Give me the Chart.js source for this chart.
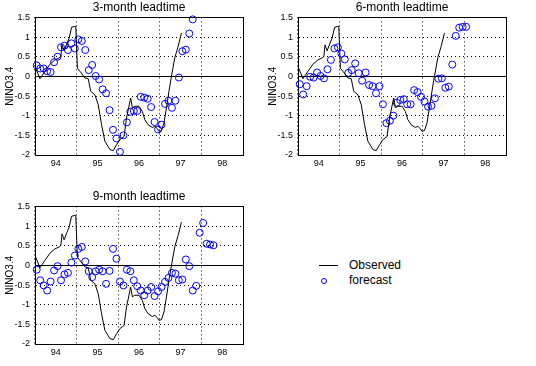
<!DOCTYPE html>
<html>
<head>
<meta charset="utf-8">
<script src="https://cdn.jsdelivr.net/npm/chart.js@4/dist/chart.umd.min.js"></script>
<style>
  body { margin: 0; background: #fff; width: 536px; height: 366px; position: relative; overflow: hidden;
         font-family: 'Liberation Sans', Arial, sans-serif; }
  canvas { position: absolute; }
  .key { position: absolute; font-size: 12px; line-height: 12px; color: #000; white-space: nowrap; }
</style>
</head>
<body>
<canvas id="lead3" width="260" height="175" style="left:0;top:0"></canvas>
<canvas id="lead6" width="260" height="175" style="left:263px;top:0"></canvas>
<canvas id="lead9" width="260" height="175" style="left:0;top:189px"></canvas>

<div style="position:absolute;left:319px;top:265px;width:19px;height:1px;background:#000"></div>
<div class="key" style="left:349px;top:259px">Observed</div>
<div style="position:absolute;left:321px;top:278px;width:4px;height:4px;border:1px solid #00f;border-radius:50%"></div>
<div class="key" style="left:349px;top:274px">forecast</div>

<script>
// tick labels (year labels sit in the middle of each year, grid at year boundaries)
const yearLabels = ['94', '95', '96', '97', '98'];
const yTicks = [-2, -1.5, -1, -0.5, 0, 0.5, 1, 1.5];

// observed NINO3.4 (decimal year since 1900, anomaly)
const obsYear = [94.0, 94.12, 94.24, 94.36, 94.48, 94.58, 94.62, 94.65, 94.7, 94.76, 94.82, 94.88, 94.96, 94.98,
  95.02, 95.08, 95.2, 95.28, 95.34, 95.44, 95.52, 95.6, 95.68, 95.8, 95.88, 95.96, 96.04, 96.14, 96.2, 96.3,
  96.34, 96.4, 96.5, 96.58, 96.64, 96.72, 96.82, 96.88, 96.94, 96.98, 97.04, 97.1, 97.16, 97.22, 97.28, 97.36,
  97.44, 97.52];
const obsValue = [0.25, -0.06, 0.13, 0.31, 0.42, 0.47, 0.5, 0.8, 0.65, 0.82, 0.97, 1.25, 1.27, 1.27,
  0.2, 0.13, -0.04, -0.06, -0.38, -0.47, -0.72, -1.23, -1.65, -1.86, -1.89, -1.74, -1.61, -1.53, -1.06, -0.55,
  -0.8, -0.76, -0.76, -0.89, -1.1, -1.23, -1.3, -1.27, -1.33, -1.4, -1.38, -1.19, -0.8, -0.38, 0.0, 0.47,
  0.76, 1.1];

// forecasts, one per month starting January 1994
const forecastStart = 94;
const fc3 = [0.28, 0.2, 0.2, 0.13, 0.11, 0.36, 0.5, 0.74, 0.78, 0.67, 0.84, 0.71, 0.94, 0.9, 0.67, 0.16,
  0.29, 0.01, -0.08, -0.33, -0.43, -0.86, -1.36, -1.58, -1.92, -1.5, -1.17, -0.9, -0.88, -0.88, -0.52, -0.54,
  -0.57, -0.78, -1.16, -1.35, -1.23, -0.7, -0.62, -0.8, -0.62, -0.03, 0.64, 0.68, 1.09, 1.45];
const fc6 = [-0.2, -0.46, -0.25, -0.01, -0.03, 0.1, 0.01, -0.05, 0.18, 0.42, 0.71, 0.74, 0.58, 0.43, 0.09,
  0.16, 0.33, 0.08, -0.11, 0.1, -0.22, -0.25, -0.43, -0.25, -0.71, -1.19, -1.13, -1.0, -0.67, -0.6, -0.58,
  -0.71, -0.71, -0.35, -0.4, -0.52, -0.64, -0.77, -0.75, -0.56, -0.06, -0.05, -0.29, -0.26, 0.3, 1.03, 1.24,
  1.26, 1.26];
const fc9 = [-0.11, -0.38, -0.51, -0.64, -0.41, -0.13, -0.02, -0.38, -0.23, -0.19, 0.07, 0.25, 0.42, 0.47,
  0.1, -0.15, -0.3, -0.15, -0.11, -0.15, -0.47, -0.14, 0.42, 0.17, -0.41, -0.51, -0.11, -0.15, -0.38, -0.53,
  -0.64, -0.76, -0.64, -0.55, -0.78, -0.66, -0.55, -0.42, -0.32, -0.19, -0.21, -0.38, -0.36, 0.15, -0.02,
  -0.64, -0.52, 0.83, 1.08, 0.55, 0.53, 0.51];

Chart.defaults.font.family = "'Liberation Sans', Arial, sans-serif";
Chart.defaults.color = '#000';

// MATLAB style closed box round the axes
const boxPlugin = {
  id: 'box',
  beforeDatasetsDraw(chart) {
    const { ctx, chartArea: a } = chart;
    const l = Math.round(a.left - 0.5) + 0.5, r = Math.round(a.right - 0.5) + 0.5;
    const t = Math.round(a.top - 0.5) + 0.5, b = Math.round(a.bottom - 0.5) + 0.5;
    ctx.save();
    ctx.strokeStyle = '#000';
    ctx.lineWidth = 1;
    ctx.strokeRect(l, t, r - l, b - t);
    ctx.restore();
  }
};

function makePanel(id, title, values) {
  const observed = obsYear.map((x, i) => ({ x, y: obsValue[i] }));
  const forecast = values.map((y, k) => ({ x: forecastStart + (k + 0.5) / 12, y }));
  return new Chart(document.getElementById(id), {
    type: 'scatter',
    data: {
      datasets: [{
        label: 'Observed',
        data: observed,
        showLine: true,
        borderColor: '#000',
        borderWidth: 1,
        pointRadius: 0,
        tension: 0
      }, {
        label: 'forecast',
        data: forecast,
        showLine: false,
        pointRadius: 3.5,
        pointBorderWidth: 1,
        pointBorderColor: '#0000ff',
        pointBackgroundColor: 'rgba(0,0,0,0)',
        clip: false
      }]
    },
    options: {
      responsive: false,
      animation: false,
      layout: { padding: { left: 0, right: 17, top: 0, bottom: 0 } },
      scales: {
        x: {
          type: 'linear',
          min: 94,
          max: 99,
          afterBuildTicks: s => { s.ticks = yearLabels.map((l, i) => ({ value: 94.5 + i })); },
          afterFit: s => { s.height = 20; },
          grid: { offset: true, color: '#000', drawTicks: false },
          border: { color: '#000', dash: [1, 3] },
          ticks: {
            callback: (v, i) => yearLabels[i],
            padding: 3,
            maxRotation: 0,
            autoSkip: false,
            font: { size: 9 }
          }
        },
        y: {
          min: -2,
          max: 1.5,
          afterBuildTicks: s => { s.ticks = yTicks.map(v => ({ value: v })); },
          afterFit: s => { s.width = 35; },
          grid: { color: '#000', drawTicks: false },
          border: { color: '#000', dash: c => (c.tick && c.tick.value === 0) ? [] : [1, 3] },
          ticks: { callback: v => String(v), padding: 5, font: { size: 9 } },
          title: { display: true, text: 'NINO3.4', padding: { top: 4, bottom: 0 }, font: { size: 10 } }
        }
      },
      plugins: {
        legend: { display: false },
        tooltip: { enabled: false },
        title: {
          display: true,
          text: title,
          fullSize: false,
          padding: { top: 0, bottom: 3 },
          font: { size: 12, weight: 'normal' }
        }
      }
    },
    plugins: [boxPlugin]
  });
}

makePanel('lead3', '3-month leadtime', fc3);
makePanel('lead6', '6-month leadtime', fc6);
makePanel('lead9', '9-month leadtime', fc9);
</script>
</body>
</html>
